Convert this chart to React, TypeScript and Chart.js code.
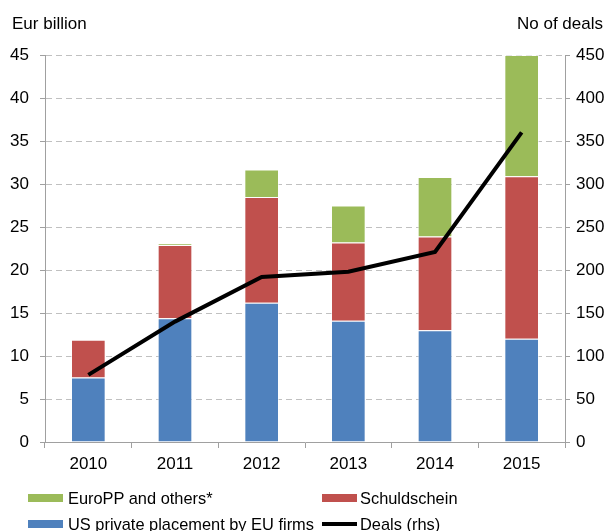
import React, { useEffect, useRef } from "react";
import { Chart, registerables } from "chart.js";

Chart.register(...registerables);

const years = ["2010", "2011", "2012", "2013", "2014", "2015"];
const usPrivatePlacement = [7.5, 14.4, 16.2, 14.1, 13.0, 12.0];
const schuldschein = [4.4, 8.5, 12.3, 9.1, 10.9, 18.9];
const europp = [0, 0.2, 3.2, 4.3, 6.9, 14.1];
const deals = [78, 140, 192, 198, 221, 360];

const FONT = "'Liberation Sans', Arial, sans-serif";
const FS = 17;

export default function App() {
  const ref = useRef<HTMLCanvasElement | null>(null);
  useEffect(() => {
    if (!ref.current) return;
    const chart = new Chart(ref.current, {
      type: "bar",
      data: {
        labels: years,
        datasets: [
          {
            type: "bar",
            label: "US private placement by EU firms",
            data: usPrivatePlacement,
            backgroundColor: "#4f81bd",
            borderColor: "rgba(255,255,255,0.6)",
            borderWidth: 1,
            stack: "s",
            yAxisID: "y",
            order: 1,
          },
          {
            type: "bar",
            label: "Schuldschein",
            data: schuldschein,
            backgroundColor: "#c0504d",
            borderColor: "rgba(255,255,255,0.6)",
            borderWidth: 1,
            stack: "s",
            yAxisID: "y",
            order: 1,
          },
          {
            type: "bar",
            label: "EuroPP and others*",
            data: europp,
            backgroundColor: "#9bbb59",
            borderColor: "rgba(255,255,255,0.6)",
            borderWidth: 1,
            stack: "s",
            yAxisID: "y",
            order: 1,
          },
          {
            type: "line",
            label: "Deals (rhs)",
            data: deals,
            borderColor: "#000000",
            backgroundColor: "#000000",
            borderWidth: 4,
            pointRadius: 0,
            tension: 0,
            yAxisID: "y1",
            order: 0,
          } as any,
        ],
      },
      options: {
        animation: false,
        responsive: false,
        maintainAspectRatio: false,
        layout: { padding: { top: 55, left: 0, right: 0, bottom: 0 } },
        plugins: { legend: { display: false }, tooltip: { enabled: false }, title: { display: false } },
        datasets: { bar: { categoryPercentage: 1, barPercentage: 0.4 } },
        scales: {
          x: {
            stacked: true,
            offset: true,
            grid: {
              offset: true,
              drawOnChartArea: false,
              drawTicks: true,
              tickLength: 6,
              tickColor: "#a0a0a0",
              tickWidth: 1,
            },
            border: { color: "#a0a0a0", width: 1 },
            ticks: { color: "#000", font: { family: FONT, size: FS }, padding: 6 },
            afterFit: (s: any) => { s.height = 531 - 442; },
          },
          y: {
            stacked: true,
            position: "left",
            min: 0,
            max: 45,
            ticks: { stepSize: 5, color: "#000", font: { family: FONT, size: FS }, padding: 11 },
            grid: {
              color: "#c0c0c0",
              lineWidth: 1,
              tickLength: 5,
              tickColor: "#a0a0a0",
              tickBorderDash: [],
            },
            border: { color: "#a0a0a0", width: 1, dash: [6, 4] },
            afterFit: (s: any) => { s.width = 45; },
          },
          y1: {
            position: "right",
            min: 0,
            max: 450,
            ticks: { stepSize: 50, color: "#000", font: { family: FONT, size: FS }, padding: 6 },
            grid: {
              drawOnChartArea: false,
              tickLength: 5,
              tickColor: "#a0a0a0",
            },
            border: { color: "#a0a0a0", width: 1 },
            afterFit: (s: any) => { s.width = 609 - 565; },
          },
        },
      },
    });
    return () => chart.destroy();
  }, []);

  const txt: React.CSSProperties = {
    position: "absolute",
    fontFamily: FONT,
    fontSize: FS,
    color: "#000",
    whiteSpace: "nowrap",
    lineHeight: "20px",
  };
  const leg: React.CSSProperties = { ...txt, fontSize: 16.4 };
  const box = (left: number, top: number, color: string, h = 8): React.CSSProperties => ({
    position: "absolute",
    left,
    top,
    width: 35,
    height: h,
    background: color,
  });

  return (
    <div style={{ position: "absolute", left: 0, top: 0, width: 609, height: 531, background: "#fff", overflow: "hidden" }}>
      <canvas ref={ref} width={609} height={531} style={{ position: "absolute", left: 0, top: 0, width: 609, height: 531 }} />
      <div style={{ ...txt, left: 12, top: 14 }}>Eur billion</div>
      <div style={{ ...txt, right: 6, top: 14 }}>No of deals</div>
      <div style={box(28, 494, "#9bbb59")} />
      <div style={{ ...leg, left: 68, top: 488 }}>EuroPP and others*</div>
      <div style={box(322, 494, "#c0504d")} />
      <div style={{ ...leg, left: 360, top: 488 }}>Schuldschein</div>
      <div style={box(28, 520, "#4f81bd")} />
      <div style={{ ...leg, left: 68, top: 514 }}>US private placement by EU firms</div>
      <div style={box(322, 522, "#000", 4)} />
      <div style={{ ...leg, left: 360, top: 514 }}>Deals (rhs)</div>
    </div>
  );
}
